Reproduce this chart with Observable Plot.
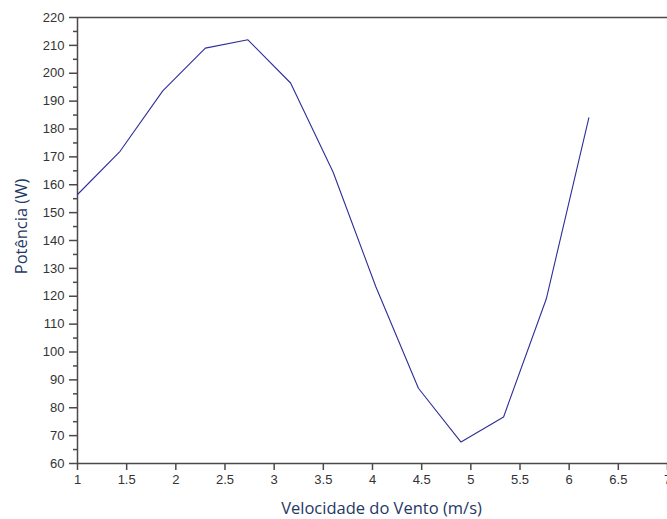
<!DOCTYPE html>
<html>
<head>
<meta charset="utf-8">
<script src="https://cdn.jsdelivr.net/npm/d3@7"></script>
<script src="https://cdn.jsdelivr.net/npm/@observablehq/plot@0.6"></script>
<style>
  html, body { margin: 0; padding: 0; background: #fff; }
  #chart svg { display: block; }
</style>
</head>
<body>
<div id="chart"></div>
<script>
const velocidade = [1, 1.433, 1.867, 2.3, 2.733, 3.167, 3.6, 4.033, 4.467, 4.9, 5.333, 5.767, 6.2];
const potencia = [156.5, 172, 193.7, 209, 212, 196.5, 164.5, 123.5, 87, 67.7, 76.7, 119, 184];
const xTicks = [1, 1.5, 2, 2.5, 3, 3.5, 4, 4.5, 5, 5.5, 6, 6.5, 7];
const yTicks = [60, 70, 80, 90, 100, 110, 120, 130, 140, 150, 160, 170, 180, 190, 200, 210, 220];
const yMinorTicks = [65, 75, 85, 95, 105, 115, 125, 135, 145, 155, 165, 175, 185, 195, 205, 215];
const xTitle = "Velocidade do Vento (m/s)";
const yTitle = "Potência (W)";

const data = velocidade.map((v, i) => ({v, p: potencia[i]}));
const axisColor = "#4a4a4a";
const titleColor = "#1f3864";
const tickFont = "Liberation Sans, Arial, sans-serif";
const titleFont = "Open Sans, Noto Sans, sans-serif";

const chart = Plot.plot({
  width: 667,
  height: 519,
  marginLeft: 77,
  marginRight: 0,
  marginTop: 17,
  marginBottom: 56,
  style: {fontFamily: tickFont, fontSize: "13px", color: "#333", background: "#fff", overflow: "hidden"},
  x: {domain: [1, 7]},
  y: {domain: [60, 220]},
  marks: [
    Plot.axisX({ticks: xTicks, tickSize: 7, tickPadding: 4, stroke: axisColor, strokeWidth: 1.5, tickFormat: d => String(d), fill: "#333", label: null, fontSize: 13}),
    Plot.axisY({ticks: yTicks, tickSize: 8, tickPadding: 5, stroke: axisColor, strokeWidth: 1.5, tickFormat: d => String(d), fill: "#333", label: null, fontSize: 13}),
    Plot.axisY({ticks: yMinorTicks, tickSize: 4, stroke: axisColor, strokeWidth: 1.5, text: null, label: null}),
    Plot.ruleX([1], {stroke: axisColor, strokeWidth: 1.5}),
    Plot.ruleY([60], {stroke: axisColor, strokeWidth: 1.5}),
    Plot.ruleY([220], {stroke: axisColor, strokeWidth: 1.5}),
    Plot.line(data, {x: "v", y: "p", stroke: "#2e2e98", strokeWidth: 1.1}),
    Plot.text([xTitle], {frameAnchor: "bottom", textAnchor: "middle", lineAnchor: "middle", dy: 45.5, dx: 9, fontSize: 16.5, fontFamily: titleFont, fill: titleColor}),
    Plot.text([yTitle], {frameAnchor: "left", textAnchor: "middle", lineAnchor: "middle", rotate: -90, dx: -56, dy: -14, fontSize: 16.5, fontFamily: titleFont, fill: titleColor})
  ]
});
document.getElementById("chart").appendChild(chart);
</script>
</body>
</html>
